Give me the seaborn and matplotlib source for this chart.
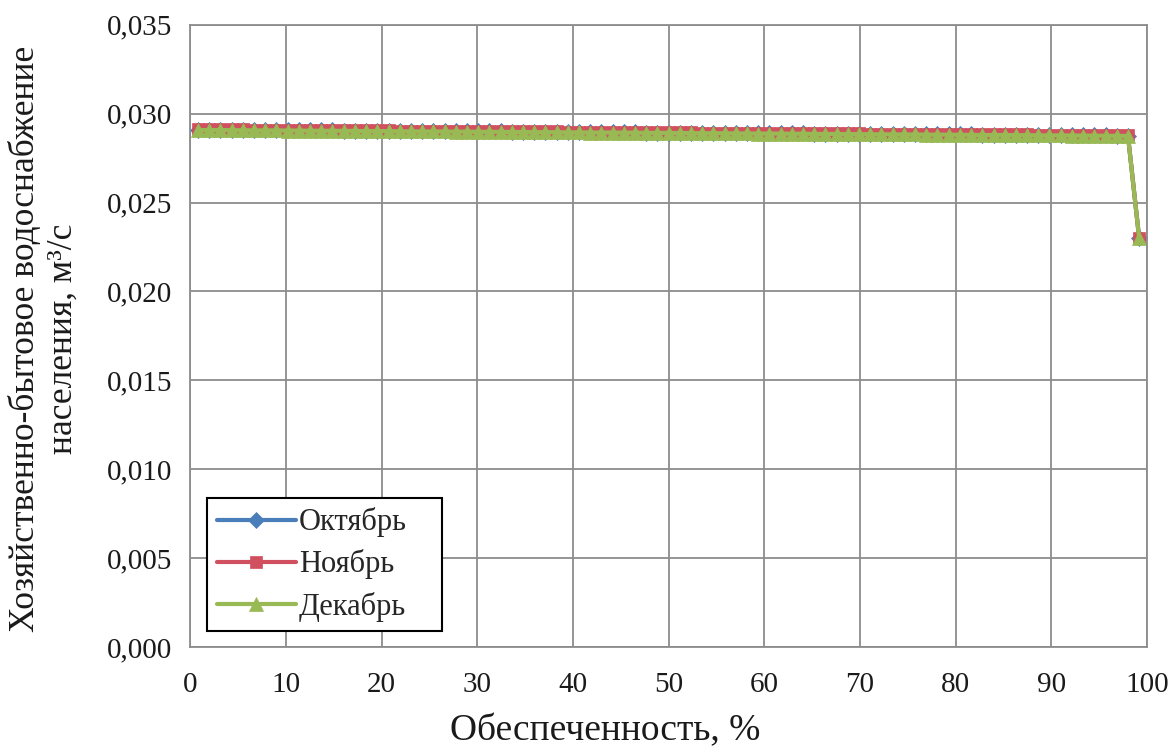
import matplotlib
matplotlib.use('Agg')
import matplotlib.pyplot as plt
from matplotlib.ticker import FuncFormatter, MultipleLocator
import seaborn as sns
import pandas as pd

# обеспеченность, % (85 членов ряда)
provision = [
    0.82, 1.99, 3.16, 4.33, 5.50, 6.67, 7.85, 9.02, 10.19, 11.36,
    12.53, 13.70, 14.87, 16.04, 17.21, 18.38, 19.56, 20.73, 21.90, 23.07,
    24.24, 25.41, 26.58, 27.75, 28.92, 30.09, 31.26, 32.44, 33.61, 34.78,
    35.95, 37.12, 38.29, 39.46, 40.63, 41.80, 42.97, 44.15, 45.32, 46.49,
    47.66, 48.83, 50.00, 51.17, 52.34, 53.51, 54.68, 55.85, 57.03, 58.20,
    59.37, 60.54, 61.71, 62.88, 64.05, 65.22, 66.39, 67.56, 68.74, 69.91,
    71.08, 72.25, 73.42, 74.59, 75.76, 76.93, 78.10, 79.27, 80.44, 81.62,
    82.79, 83.96, 85.13, 86.30, 87.47, 88.64, 89.81, 90.98, 92.15, 93.33,
    94.50, 95.67, 96.84, 98.01, 99.18,
]

october = [
    0.02910, 0.02910, 0.02910, 0.02909, 0.02909, 0.02908, 0.02908, 0.02908, 0.02907, 0.02907,
    0.02906, 0.02906, 0.02906, 0.02905, 0.02905, 0.02904, 0.02904, 0.02904, 0.02903, 0.02903,
    0.02902, 0.02902, 0.02902, 0.02901, 0.02901, 0.02900, 0.02900, 0.02900, 0.02899, 0.02899,
    0.02898, 0.02898, 0.02898, 0.02897, 0.02897, 0.02896, 0.02896, 0.02896, 0.02895, 0.02895,
    0.02894, 0.02894, 0.02894, 0.02893, 0.02893, 0.02892, 0.02892, 0.02892, 0.02891, 0.02891,
    0.02890, 0.02890, 0.02890, 0.02889, 0.02889, 0.02888, 0.02888, 0.02888, 0.02887, 0.02887,
    0.02886, 0.02886, 0.02886, 0.02885, 0.02885, 0.02884, 0.02884, 0.02884, 0.02883, 0.02883,
    0.02882, 0.02882, 0.02882, 0.02881, 0.02881, 0.02880, 0.02880, 0.02880, 0.02879, 0.02879,
    0.02878, 0.02878, 0.02877, 0.02877, 0.02300,
]

november = [
    0.02912, 0.02912, 0.02912, 0.02911, 0.02911, 0.02910, 0.02910, 0.02910, 0.02909, 0.02909,
    0.02908, 0.02908, 0.02908, 0.02907, 0.02907, 0.02906, 0.02906, 0.02906, 0.02905, 0.02905,
    0.02904, 0.02904, 0.02904, 0.02903, 0.02903, 0.02902, 0.02902, 0.02902, 0.02901, 0.02901,
    0.02900, 0.02900, 0.02900, 0.02899, 0.02899, 0.02898, 0.02898, 0.02898, 0.02897, 0.02897,
    0.02896, 0.02896, 0.02896, 0.02895, 0.02895, 0.02894, 0.02894, 0.02894, 0.02893, 0.02893,
    0.02892, 0.02892, 0.02892, 0.02891, 0.02891, 0.02890, 0.02890, 0.02890, 0.02889, 0.02889,
    0.02888, 0.02888, 0.02888, 0.02887, 0.02887, 0.02886, 0.02886, 0.02886, 0.02885, 0.02885,
    0.02884, 0.02884, 0.02884, 0.02883, 0.02883, 0.02882, 0.02882, 0.02882, 0.02881, 0.02881,
    0.02880, 0.02880, 0.02879, 0.02879, 0.02300,
]

december = [
    0.02908, 0.02908, 0.02908, 0.02907, 0.02907, 0.02906, 0.02906, 0.02906, 0.02905, 0.02905,
    0.02904, 0.02904, 0.02904, 0.02903, 0.02903, 0.02902, 0.02902, 0.02902, 0.02901, 0.02901,
    0.02900, 0.02900, 0.02900, 0.02899, 0.02899, 0.02898, 0.02898, 0.02898, 0.02897, 0.02897,
    0.02896, 0.02896, 0.02896, 0.02895, 0.02895, 0.02894, 0.02894, 0.02894, 0.02893, 0.02893,
    0.02892, 0.02892, 0.02892, 0.02891, 0.02891, 0.02890, 0.02890, 0.02890, 0.02889, 0.02889,
    0.02888, 0.02888, 0.02888, 0.02887, 0.02887, 0.02886, 0.02886, 0.02886, 0.02885, 0.02885,
    0.02884, 0.02884, 0.02884, 0.02883, 0.02883, 0.02882, 0.02882, 0.02882, 0.02881, 0.02881,
    0.02880, 0.02880, 0.02880, 0.02879, 0.02879, 0.02878, 0.02878, 0.02878, 0.02877, 0.02877,
    0.02876, 0.02876, 0.02875, 0.02875, 0.02300,
]

sns.set_style('whitegrid')
plt.rcParams['font.family'] = ['Liberation Serif', 'DejaVu Serif']

fig = plt.figure(figsize=(11.74, 7.51), dpi=100)
ax = fig.add_axes([0.162, 0.1385, 0.815, 0.8285])

series = [
    ('Октябрь', october, '#4A7EBB', 'D', 8),
    ('Ноябрь', november, '#D0505F', 's', 8.5),
    ('Декабрь', december, '#98B954', '^', 9.5),
]
for name, vals, col, mk, ms in series:
    df = pd.DataFrame({'p': provision, 'q': vals})
    sns.lineplot(data=df, x='p', y='q', ax=ax, color=col, linewidth=3,
                 marker=mk, markersize=ms, markeredgecolor=col,
                 markeredgewidth=0.5, label=name, sort=False)

ax.set_xlim(0, 100)
ax.set_ylim(0, 0.035)
ax.xaxis.set_major_locator(MultipleLocator(10))
ax.yaxis.set_major_locator(MultipleLocator(0.005))
ax.yaxis.set_major_formatter(FuncFormatter(lambda v, p: f'{v:.3f}'.replace('.', ',')))

ax.grid(True, color='#8c8c8c', linewidth=1.3)
for s in ax.spines.values():
    s.set_color('#8c8c8c')
    s.set_linewidth(1.3)
ax.tick_params(axis='both', length=7, width=1.3, color='#8c8c8c',
               labelsize=21, labelcolor='#1a1a1a', direction='out')
ax.tick_params(axis='x', pad=11)
ax.tick_params(axis='y', pad=6)

ax.set_xlabel('Обеспеченность, %', fontsize=27, color='#1a1a1a')
ax.set_ylabel('Хозяйственно-бытовое водоснабжение\nнаселения, м³/с',
              fontsize=25.5, color='#1a1a1a', linespacing=1.2)
ax.xaxis.set_label_coords(0.434, -0.108)
ax.yaxis.set_label_coords(-0.115, 0.495)

leg = ax.legend(loc='lower left', bbox_to_anchor=(0.018, 0.026, 0.245, 0.2),
                mode='expand', fontsize=22,
                frameon=True, fancybox=False, edgecolor='black',
                handlelength=2.6, borderpad=0.3, labelspacing=0.4,
                handletextpad=0.1, borderaxespad=0)
leg.get_frame().set_linewidth(1.5)
leg.get_frame().set_alpha(1)

fig.savefig('out.png', dpi=100)
